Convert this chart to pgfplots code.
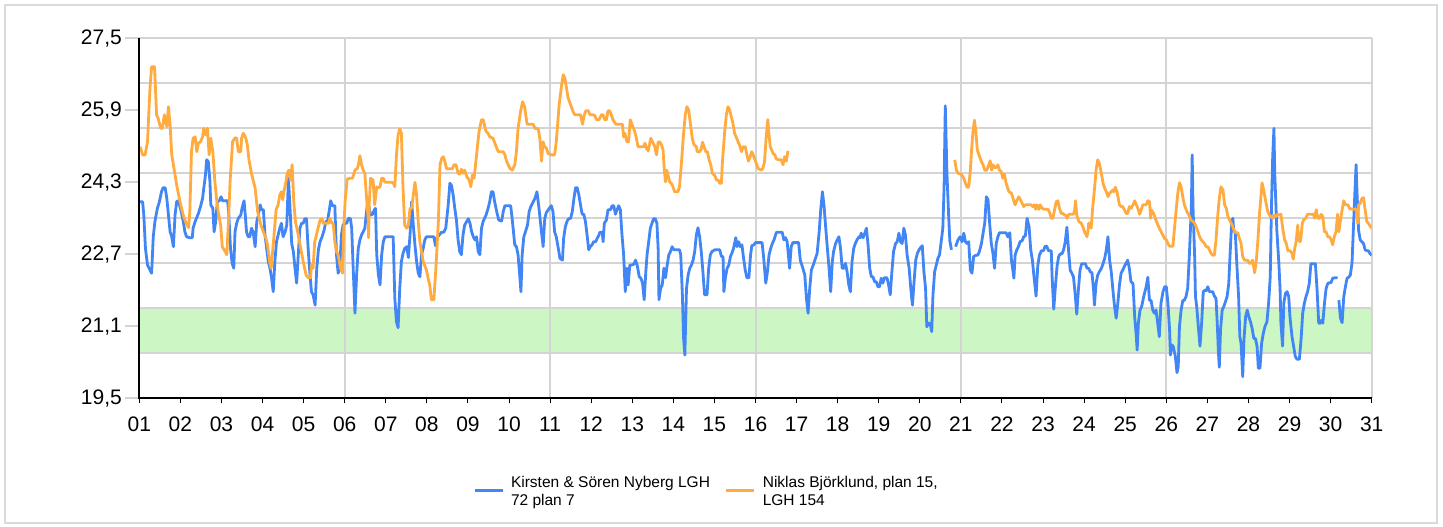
\documentclass[border=0pt]{standalone}
\usepackage{fontspec}
\setmainfont{Liberation Sans}
\usepackage{pgfplots}
\pgfplotsset{compat=1.18}
\definecolor{sblue}{RGB}{66,133,244}
\definecolor{sorange}{RGB}{255,171,64}
\definecolor{bandc}{RGB}{204,246,196}
\definecolor{gridc}{RGB}{212,212,212}
\definecolor{framec}{RGB}{218,218,218}
\begin{document}
\begin{tikzpicture}
\begin{axis}[
 set layers,
 at={(0,0)}, anchor=south west,
 scale only axis, width=1232.4bp, height=360bp,
 xmin=1, xmax=31, ymin=19.5, ymax=27.5,
 axis x line*=bottom, axis y line*=left,
 axis line style={black, line width=2.2bp},
 xtick={1,...,31},
 xticklabels={01,02,03,04,05,06,07,08,09,10,11,12,13,14,15,16,17,18,19,20,21,22,23,24,25,26,27,28,29,30,31},
 xticklabel style={yshift=-10bp},
 ytick={20.5,21.5,...,27.5},
 yticklabels={,,,,,,,},
 ymajorgrids=true,
 major grid style={draw=gridc, line width=2bp},
 ytick style={draw=none},
 extra y ticks={19.5,21.1,22.7,24.3,25.9,27.5},
 extra y tick labels={{19,5},{21,1},{22,7},{24,3},{25,9},{27,5}},
 extra y tick style={grid=none, major tick length=14bp},
 minor xtick={6,11,16,21,26,31},
 xminorgrids=true,
 minor grid style={draw=gridc, line width=2bp},
 minor tick length=0pt,
 major tick length=5bp,
 tick align=outside,
 xtick style={black, line width=1bp},
 tick label style={font=\fontsize{21bp}{25bp}\selectfont},
 unbounded coords=jump,
 legend columns=2,
 legend style={at={(axis description cs:0.2708,-0.2103)}, anchor=north west, draw=none, fill=none, inner sep=0pt,
   font=\fontsize{15.5bp}{17.6bp}\selectfont, cells={align=left, inner sep=0pt},
   /tikz/every even column/.append style={column sep=13bp},
   /tikz/every odd column/.append style={column sep=5bp}},
 legend image code/.code={\draw[#1, line width=2.8bp] (0bp,0.5bp) -- (28bp,0.5bp);},
]
\addplot[draw=none, fill=bandc, forget plot, on layer=axis background] coordinates {(1,20.5) (31,20.5) (31,21.5) (1,21.5)};
\coordinate (t1) at (axis cs:1,19.5);
\coordinate (t2) at (axis cs:1,21.1);
\coordinate (t3) at (axis cs:1,22.7);
\coordinate (t4) at (axis cs:1,24.3);
\coordinate (t5) at (axis cs:1,25.9);
\coordinate (t6) at (axis cs:1,27.5);

\addplot[sblue, line width=2.8bp, line join=round] coordinates {
(1.02,23.87)(1.08,23.87)(1.11,23.57)(1.15,22.83)(1.20,22.46)(1.24,22.39)(1.30,22.28)(1.34,23.09)(1.38,23.43)(1.44,23.72)(1.49,23.87)(1.54,24.09)(1.58,24.18)(1.63,24.18)(1.67,23.94)(1.71,23.57)(1.75,23.20)(1.79,23.09)(1.83,22.87)(1.87,23.57)(1.91,23.87)(1.95,23.89)(2.01,23.69)(2.07,23.43)(2.11,23.20)(2.15,23.09)(2.22,23.07)(2.29,23.07)(2.31,23.28)(2.36,23.43)(2.44,23.61)(2.49,23.76)(2.54,23.94)(2.57,24.17)(2.61,24.46)(2.64,24.80)(2.68,24.76)(2.72,24.31)(2.74,23.80)(2.79,23.72)(2.82,23.20)(2.86,23.43)(2.90,23.87)(2.95,23.89)(2.99,23.98)(3.03,23.89)(3.09,23.89)(3.15,23.89)(3.18,23.57)(3.22,22.83)(3.26,22.50)(3.30,22.39)(3.33,23.20)(3.37,23.39)(3.41,23.50)(3.47,23.57)(3.50,23.72)(3.55,23.89)(3.58,23.57)(3.61,23.20)(3.65,23.09)(3.69,23.09)(3.73,23.28)(3.77,23.20)(3.82,22.87)(3.86,23.43)(3.90,23.57)(3.94,23.80)(3.98,23.69)(4.02,23.69)(4.06,23.13)(4.10,22.83)(4.14,22.54)(4.18,22.39)(4.22,22.17)(4.26,21.87)(4.30,22.54)(4.34,22.98)(4.38,23.13)(4.42,23.28)(4.46,23.39)(4.50,23.09)(4.55,23.20)(4.59,23.35)(4.63,24.39)(4.67,23.72)(4.71,22.94)(4.75,22.76)(4.79,22.39)(4.83,22.06)(4.87,22.69)(4.91,23.28)(4.95,23.39)(4.99,23.39)(5.03,23.49)(5.07,23.49)(5.11,22.83)(5.15,22.31)(5.19,21.87)(5.23,21.80)(5.28,21.57)(5.32,22.39)(5.36,22.80)(5.40,22.98)(5.45,23.09)(5.50,23.24)(5.54,23.43)(5.58,23.43)(5.62,23.65)(5.66,23.89)(5.70,23.78)(5.76,23.78)(5.80,22.69)(5.84,22.28)(5.88,22.39)(5.92,23.13)(5.96,23.35)(6.01,23.39)(6.05,23.39)(6.09,23.50)(6.14,23.49)(6.17,23.28)(6.21,22.31)(6.25,21.39)(6.29,22.24)(6.33,22.83)(6.37,23.02)(6.41,23.13)(6.45,23.20)(6.49,23.28)(6.55,23.80)(6.59,23.76)(6.63,23.57)(6.68,23.59)(6.72,23.69)(6.75,23.72)(6.78,22.69)(6.82,22.24)(6.86,22.02)(6.90,22.69)(6.94,22.98)(6.98,23.09)(7.06,23.09)(7.14,23.09)(7.18,23.09)(7.22,21.72)(7.26,21.20)(7.30,21.07)(7.34,21.94)(7.38,22.54)(7.42,22.72)(7.46,22.83)(7.51,22.87)(7.55,22.63)(7.59,23.13)(7.63,23.87)(7.67,23.35)(7.71,22.91)(7.75,22.54)(7.79,22.28)(7.83,22.20)(7.87,22.69)(7.91,22.83)(7.95,23.02)(7.99,23.09)(8.11,23.09)(8.17,23.09)(8.21,22.89)(8.25,23.07)(8.30,23.13)(8.36,23.19)(8.41,23.19)(8.46,23.28)(8.52,23.80)(8.56,24.28)(8.60,24.23)(8.64,24.02)(8.68,23.72)(8.72,23.46)(8.76,23.02)(8.80,22.76)(8.84,22.69)(8.88,23.13)(8.92,23.35)(8.97,23.43)(9.01,23.49)(9.05,23.39)(9.09,23.20)(9.13,23.09)(9.17,23.02)(9.21,23.09)(9.25,22.76)(9.29,22.69)(9.33,23.28)(9.37,23.43)(9.44,23.57)(9.49,23.72)(9.53,23.87)(9.57,24.09)(9.61,24.09)(9.65,23.87)(9.70,23.65)(9.75,23.46)(9.82,23.44)(9.86,23.65)(9.90,23.78)(9.98,23.78)(10.04,23.78)(10.08,23.46)(10.14,22.91)(10.18,22.87)(10.22,22.69)(10.26,22.24)(10.29,21.87)(10.32,22.69)(10.36,23.09)(10.40,23.20)(10.45,23.35)(10.49,23.65)(10.53,23.76)(10.59,23.87)(10.63,23.94)(10.68,24.09)(10.73,23.72)(10.79,23.20)(10.83,22.87)(10.87,23.50)(10.91,23.63)(10.98,23.72)(11.03,23.78)(11.07,23.65)(11.11,23.20)(11.15,23.09)(11.20,22.83)(11.24,22.61)
(11.30,22.57)(11.33,23.06)(11.37,23.31)(11.41,23.43)(11.45,23.49)(11.50,23.50)(11.54,23.65)(11.58,23.94)(11.62,24.18)(11.66,24.18)(11.70,24.02)(11.74,23.80)(11.78,23.59)(11.82,23.59)(11.86,23.43)(11.90,23.13)(11.94,22.80)(11.98,22.87)(12.02,22.91)(12.06,22.98)(12.11,22.98)(12.15,23.06)(12.19,23.13)(12.21,23.19)(12.27,23.19)(12.29,22.98)(12.32,23.39)(12.37,23.46)(12.41,23.69)(12.47,23.69)(12.51,23.78)(12.55,23.78)(12.59,23.59)(12.63,23.69)(12.67,23.78)(12.71,23.69)(12.75,23.13)(12.79,22.69)(12.83,21.87)(12.87,22.39)(12.90,22.02)(12.94,22.46)(12.98,22.46)(13.04,22.48)(13.08,22.57)(13.12,22.46)(13.17,22.20)(13.21,22.17)(13.25,22.06)(13.29,21.69)(13.33,22.31)(13.36,22.69)(13.40,22.98)(13.44,23.28)(13.48,23.39)(13.52,23.49)(13.56,23.49)(13.60,23.39)(13.63,22.83)(13.65,21.69)(13.69,21.94)(13.73,22.02)(13.77,22.39)(13.81,22.18)(13.85,22.46)(13.89,22.69)(13.93,22.76)(13.97,22.87)(14.01,22.80)(14.07,22.80)(14.15,22.80)(14.18,22.69)(14.22,21.80)(14.25,20.83)(14.28,20.46)(14.32,21.94)(14.36,22.24)(14.40,22.39)(14.44,22.46)(14.48,22.57)(14.52,22.76)(14.56,23.13)(14.60,23.29)(14.64,23.09)(14.68,22.76)(14.72,22.31)(14.76,21.80)(14.82,21.80)(14.86,22.39)(14.90,22.69)(14.94,22.76)(15.01,22.80)(15.09,22.80)(15.13,22.80)(15.17,22.65)(15.21,22.65)(15.23,21.87)(15.27,22.20)(15.31,22.39)(15.35,22.46)(15.39,22.65)(15.44,22.76)(15.47,22.85)(15.52,23.07)(15.55,22.87)(15.59,22.98)(15.63,22.87)(15.67,22.91)(15.71,22.61)(15.75,22.35)(15.79,22.18)(15.84,22.18)(15.88,22.69)(15.91,22.89)(15.96,22.91)(16.00,22.96)(16.06,22.96)(16.12,22.96)(16.16,22.96)(16.20,22.61)(16.25,22.06)(16.29,22.31)(16.33,22.69)(16.37,22.83)(16.41,22.94)(16.45,23.02)(16.51,23.19)(16.59,23.19)(16.65,23.19)(16.69,23.02)(16.73,23.07)(16.77,22.98)(16.80,22.69)(16.83,22.39)(16.87,22.87)(16.91,22.96)(16.99,22.96)(17.05,22.96)(17.09,22.57)(17.14,22.43)(17.20,22.24)(17.24,21.72)(17.28,21.39)(17.32,21.94)(17.36,22.35)(17.42,22.50)(17.46,22.61)(17.50,22.72)(17.55,23.20)(17.59,23.72)(17.63,24.09)(17.67,23.76)(17.71,23.28)(17.75,22.83)(17.79,22.39)(17.83,21.87)(17.87,22.54)(17.90,22.76)(17.95,22.94)(17.99,23.02)(18.03,23.09)(18.07,22.83)(18.11,22.39)(18.15,22.39)(18.19,22.50)(18.23,22.31)(18.27,22.02)(18.31,21.87)(18.35,22.54)(18.39,22.83)(18.43,22.94)(18.47,23.02)(18.52,23.09)(18.55,23.07)(18.57,23.17)(18.62,23.07)(18.66,23.17)(18.70,23.28)(18.74,22.91)(18.78,22.39)(18.82,22.20)(18.86,22.20)(18.90,22.09)(18.94,22.09)(18.98,21.98)(19.02,21.98)(19.06,22.17)(19.10,22.06)(19.14,22.18)(19.20,22.18)(19.24,22.02)(19.28,21.80)(19.32,22.31)(19.36,22.76)(19.41,22.94)(19.45,22.98)(19.49,23.17)(19.53,22.98)(19.57,22.94)(19.61,23.28)(19.65,23.13)(19.69,22.69)(19.74,22.39)(19.78,21.94)(19.82,21.57)(19.86,22.09)(19.90,22.57)(19.94,22.72)(19.98,22.80)(20.02,22.85)(20.06,22.89)(20.10,22.31)(20.14,21.94)(20.17,21.09)(20.22,21.17)(20.25,21.17)(20.29,20.98)(20.32,21.80)(20.36,22.31)(20.40,22.46)(20.44,22.61)(20.48,22.69)(20.52,22.98)(20.56,23.28)(20.59,24.17)(20.62,26.00)(20.66,24.50)(20.70,23.60)(20.73,23.00)(20.77,22.80)(20.81,nan)
(20.87,22.87)(20.93,23.02)(20.98,23.09)(21.03,22.98)(21.07,23.17)(21.11,22.98)(21.15,22.94)(21.19,22.98)(21.23,22.35)(21.27,22.28)(21.31,22.65)(21.37,22.68)(21.41,22.68)(21.45,22.76)(21.50,22.94)(21.54,23.17)(21.58,23.39)(21.62,23.98)(21.66,23.91)(21.70,23.39)(21.74,22.94)(21.78,22.72)(21.82,22.39)(21.86,22.94)(21.90,23.09)(21.94,23.18)(22.02,23.18)(22.10,23.18)(22.14,23.09)(22.19,23.18)(22.23,22.57)(22.27,22.31)(22.29,22.17)(22.32,22.68)(22.36,22.80)(22.40,22.87)(22.44,22.98)(22.49,23.00)(22.53,23.09)(22.57,23.11)(22.61,23.50)(22.66,23.31)(22.70,22.80)(22.74,22.57)(22.78,22.20)(22.83,21.77)(22.87,22.43)(22.91,22.68)(22.96,22.78)(23.01,22.78)(23.05,22.88)(23.09,22.88)(23.13,22.78)(23.20,22.78)(23.22,22.20)(23.26,21.48)(23.30,21.98)(23.34,22.43)(23.38,22.65)(23.42,22.71)(23.46,22.71)(23.50,22.80)(23.54,22.98)(23.58,23.30)(23.62,22.80)(23.66,22.35)(23.70,22.28)(23.74,22.20)(23.78,21.83)(23.82,21.37)(23.86,21.91)(23.90,22.35)(23.94,22.49)(23.99,22.49)(24.03,22.49)(24.07,22.39)(24.11,22.39)(24.15,22.31)(24.19,22.29)(24.23,21.91)(24.25,21.57)(24.29,22.05)(24.33,22.24)(24.37,22.31)(24.42,22.39)(24.46,22.49)(24.50,22.61)(24.54,22.80)(24.58,23.09)(24.62,22.57)(24.66,22.31)(24.70,21.91)(24.74,21.54)(24.78,21.28)(24.82,21.61)(24.86,22.02)(24.90,22.28)(24.94,22.35)(24.98,22.43)(25.02,22.50)(25.06,22.57)(25.10,22.39)(25.14,22.09)(25.19,22.05)(25.23,21.31)(25.27,20.87)(25.29,20.57)(25.32,21.17)(25.36,21.46)(25.40,21.54)(25.45,21.76)(25.49,21.91)(25.51,21.98)(25.55,22.19)(25.59,21.68)(25.63,21.67)(25.67,21.46)(25.71,21.39)(25.75,21.46)(25.79,21.17)(25.83,20.87)(25.87,21.61)(25.92,21.87)(25.96,21.98)(26.00,21.98)(26.04,21.61)(26.08,21.02)(26.10,20.46)(26.13,20.69)(26.17,20.65)(26.22,20.43)(26.26,20.07)(26.29,20.20)(26.32,21.09)(26.36,21.46)(26.40,21.67)(26.44,21.68)(26.48,21.76)(26.52,21.94)(26.56,22.65)(26.61,23.76)(26.63,24.91)(26.65,23.76)(26.69,22.65)(26.71,21.76)(26.74,21.54)(26.78,21.09)(26.82,20.66)(26.86,21.17)(26.90,21.87)(26.95,21.91)(26.97,21.89)(27.01,21.98)(27.05,21.87)(27.09,21.87)(27.13,21.87)(27.17,21.77)(27.21,21.72)(27.24,21.17)(27.27,20.50)(27.29,20.19)(27.32,21.02)(27.36,21.46)(27.40,21.54)(27.44,21.65)(27.48,21.76)(27.52,22.05)(27.55,22.65)(27.59,23.39)(27.62,23.50)(27.64,23.24)(27.68,23.17)(27.72,22.43)(27.76,21.76)(27.79,20.87)(27.82,20.72)(27.86,19.98)(27.89,20.80)(27.93,21.31)(27.97,21.46)(28.01,21.31)(28.05,21.20)(28.09,21.05)(28.13,20.83)(28.17,20.83)(28.21,20.65)(28.24,20.17)(28.28,20.17)(28.32,20.72)(28.36,20.94)(28.40,21.09)(28.45,21.20)(28.49,21.61)(28.53,22.20)(28.56,23.76)(28.59,24.87)(28.62,25.50)(28.64,24.50)(28.69,23.24)(28.74,22.50)(28.77,21.91)(28.79,21.17)(28.83,20.66)(28.86,21.61)(28.90,21.83)(28.94,21.87)(28.98,21.76)(29.01,21.31)(29.06,20.87)(29.10,20.65)(29.14,20.43)(29.18,20.37)(29.24,20.37)(29.28,20.80)(29.32,21.39)(29.36,21.61)(29.40,21.76)(29.44,21.87)(29.48,22.05)(29.52,22.49)(29.58,22.49)(29.63,22.49)(29.67,21.91)(29.71,21.17)(29.75,21.17)(29.78,21.24)(29.81,21.17)(29.85,21.61)(29.89,21.94)(29.93,22.05)(29.97,22.07)(30.01,22.07)(30.05,22.17)(30.13,22.18)(30.17,22.18)(30.185,nan)
(30.20,21.68)(30.24,21.28)(30.28,21.18)(30.32,21.76)(30.36,21.98)(30.40,22.17)(30.44,22.19)(30.48,22.24)(30.52,22.50)(30.56,23.39)(30.60,24.28)(30.62,24.69)(30.64,24.13)(30.68,23.24)(30.72,23.02)(30.76,22.98)(30.80,22.94)(30.84,22.80)(30.88,22.78)(30.92,22.78)(30.96,22.71)(31.00,22.68)
};
\addlegendentry{Kirsten \& Sören Nyberg LGH\\72 plan 7}

\addplot[sorange, line width=2.8bp, line join=round] coordinates {
(1.02,25.09)(1.08,24.91)(1.14,24.91)(1.20,25.20)(1.26,26.39)(1.30,26.87)(1.37,26.87)(1.38,26.68)(1.42,25.80)(1.46,25.72)(1.52,25.50)(1.56,25.50)(1.61,25.80)(1.64,25.65)(1.67,25.54)(1.71,25.98)(1.75,25.57)(1.79,24.91)(1.83,24.69)(1.91,24.24)(1.99,23.87)(2.07,23.57)(2.14,23.39)(2.20,23.29)(2.23,23.65)(2.27,24.98)(2.31,25.28)(2.36,25.31)(2.40,24.98)(2.44,25.17)(2.49,25.20)(2.54,25.31)(2.57,25.50)(2.62,25.35)(2.66,25.50)(2.70,24.91)(2.74,25.28)(2.79,24.98)(2.84,24.31)(2.88,23.94)(2.92,23.65)(2.98,23.35)(3.02,22.87)(3.09,22.76)(3.13,22.69)(3.17,23.43)(3.21,24.31)(3.27,25.20)(3.33,25.29)(3.37,25.28)(3.41,24.98)(3.47,24.98)(3.49,25.28)(3.53,25.39)(3.59,25.29)(3.63,25.13)(3.67,24.80)(3.73,24.50)(3.82,24.17)(3.88,23.65)(3.96,23.35)(4.02,23.20)(4.08,23.06)(4.12,22.91)(4.18,22.50)(4.21,22.39)(4.26,22.91)(4.33,23.69)(4.38,23.80)(4.42,24.02)(4.46,24.09)(4.49,23.91)(4.52,24.09)(4.57,24.31)(4.60,24.50)(4.64,24.57)(4.68,24.35)(4.72,24.69)(4.76,23.87)(4.80,23.43)(4.87,23.13)(4.93,22.83)(4.99,22.54)(5.06,22.24)(5.11,22.18)(5.17,22.18)(5.19,22.46)(5.23,22.39)(5.27,22.98)(5.33,23.20)(5.40,23.46)(5.45,23.49)(5.48,23.39)(5.56,23.39)(5.61,23.39)(5.64,23.50)(5.69,23.39)(5.72,23.39)(5.76,22.98)(5.80,22.76)(5.84,22.69)(5.90,22.39)(5.95,22.28)(5.97,23.13)(6.01,23.87)(6.06,24.37)(6.13,24.39)(6.19,24.39)(6.25,24.57)(6.31,24.61)(6.34,24.72)(6.37,24.89)(6.41,24.69)(6.45,24.57)(6.49,24.50)(6.53,23.98)(6.57,23.50)(6.58,23.07)(6.60,23.87)(6.63,24.39)(6.69,24.35)(6.73,23.80)(6.78,24.20)(6.82,24.18)(6.86,24.20)(6.90,24.39)(6.94,24.39)(6.98,24.30)(7.06,24.30)(7.14,24.30)(7.18,24.29)(7.22,24.20)(7.26,24.91)(7.30,25.35)(7.34,25.49)(7.38,25.39)(7.42,24.17)(7.46,23.35)(7.51,23.28)(7.55,23.35)(7.59,23.72)(7.63,23.72)(7.67,24.02)(7.71,24.30)(7.75,24.02)(7.79,23.43)(7.83,22.98)(7.91,22.54)(7.99,22.35)(8.03,22.17)(8.07,22.02)(8.11,21.69)(8.17,21.69)(8.22,22.39)(8.28,23.43)(8.32,24.69)(8.36,24.83)(8.40,24.87)(8.44,24.76)(8.48,24.60)(8.56,24.60)(8.62,24.60)(8.66,24.69)(8.71,24.69)(8.76,24.50)(8.80,24.48)(8.84,24.59)(8.88,24.50)(8.92,24.57)(8.97,24.43)(9.03,24.35)(9.07,24.20)(9.11,24.46)(9.15,24.39)(9.21,24.91)(9.27,25.43)(9.33,25.69)(9.37,25.69)(9.44,25.43)(9.49,25.39)(9.53,25.31)(9.61,25.28)(9.70,25.06)(9.74,24.98)(9.82,24.98)(9.86,24.98)(9.90,24.91)(9.94,24.77)(10.02,24.61)(10.08,24.57)(10.14,24.69)(10.18,24.98)(10.22,25.50)(10.28,25.87)(10.33,26.09)(10.38,25.98)(10.44,25.59)(10.51,25.59)(10.59,25.59)(10.63,25.50)(10.71,25.49)(10.75,25.28)(10.79,24.77)(10.83,25.20)(10.87,25.09)(10.91,25.06)(10.95,24.94)(11.03,24.91)(11.11,24.91)(11.15,25.20)
(11.22,26.02)(11.28,26.46)(11.32,26.69)(11.36,26.61)(11.40,26.39)(11.44,26.17)(11.50,26.02)(11.56,25.87)(11.60,25.80)(11.68,25.80)(11.74,25.80)(11.79,25.59)(11.82,25.76)(11.87,25.89)(11.93,25.89)(11.97,25.80)(12.05,25.80)(12.09,25.78)(12.13,25.69)(12.19,25.69)(12.25,25.80)(12.29,25.80)(12.33,25.69)(12.37,25.69)(12.41,25.89)(12.45,25.89)(12.49,25.80)(12.53,25.69)(12.60,25.59)(12.70,25.59)(12.76,25.59)(12.79,25.31)(12.82,25.39)(12.87,25.20)(12.91,25.20)(12.95,25.69)(13.00,25.57)(13.06,25.43)(13.10,25.28)(13.14,25.09)(13.22,25.09)(13.28,25.09)(13.31,25.17)(13.34,25.06)(13.39,25.00)(13.45,25.28)(13.51,25.17)(13.55,25.09)(13.59,24.91)(13.63,25.19)(13.67,25.20)(13.71,25.13)(13.75,25.02)(13.78,24.57)(13.81,24.31)(13.84,24.57)(13.87,24.46)(13.91,24.31)(13.95,24.28)(13.99,24.20)(14.03,24.09)(14.11,24.09)(14.15,24.20)(14.20,24.76)(14.24,25.28)(14.29,25.80)(14.33,25.98)(14.37,25.91)(14.41,25.65)(14.46,25.28)(14.50,25.14)(14.56,25.09)(14.58,24.98)(14.64,24.98)(14.68,25.04)(14.71,25.19)(14.75,25.09)(14.79,24.98)(14.83,24.98)(14.87,24.80)(14.91,24.69)(14.95,24.50)(15.01,24.45)(15.05,24.35)(15.09,24.35)(15.13,24.28)(15.17,24.28)(15.19,24.69)(15.25,25.43)(15.29,25.80)(15.33,25.98)(15.37,25.91)(15.41,25.76)(15.45,25.61)(15.49,25.39)(15.55,25.26)(15.61,25.13)(15.66,24.98)(15.70,25.09)(15.75,25.09)(15.79,24.91)(15.83,24.77)(15.87,24.87)(15.91,24.98)(15.96,24.87)(16.00,24.77)(16.06,24.61)(16.14,24.57)(16.18,24.61)(16.22,24.76)(16.26,25.31)(16.30,25.69)(16.33,25.35)(16.36,25.09)(16.43,24.94)(16.47,24.91)(16.51,24.82)(16.57,24.80)(16.63,24.80)(16.67,24.69)(16.71,24.87)(16.75,24.77)(16.79,25.00)(16.85,nan)
(20.85,24.80)(20.89,24.57)(20.93,24.50)(21.01,24.48)(21.07,24.39)(21.11,24.28)(21.15,24.19)(21.19,24.19)(21.23,24.57)(21.26,25.02)(21.29,25.39)(21.33,25.68)(21.36,25.46)(21.40,25.02)(21.44,24.91)(21.50,24.76)(21.54,24.69)(21.58,24.57)(21.63,24.57)(21.68,24.69)(21.71,24.78)(21.75,24.57)(21.78,24.69)(21.82,24.63)(21.86,24.63)(21.90,24.69)(21.94,24.57)(21.98,24.54)(22.02,24.39)(22.06,24.48)(22.10,24.28)(22.17,24.09)(22.23,24.06)(22.28,23.91)(22.32,23.80)(22.36,23.89)(22.41,23.98)(22.47,23.87)(22.53,23.76)(22.57,23.80)(22.63,23.80)(22.71,23.80)(22.75,23.76)(22.79,23.80)(22.82,23.70)(22.85,23.80)(22.90,23.70)(22.93,23.80)(22.98,23.72)(23.04,23.70)(23.12,23.70)(23.16,23.63)(23.20,23.50)(23.24,23.50)(23.28,23.69)(23.32,23.87)(23.36,23.89)(23.40,23.72)(23.44,23.61)(23.48,23.61)(23.52,23.57)(23.56,23.57)(23.58,23.50)(23.63,23.59)(23.69,23.59)(23.74,23.59)(23.77,23.69)(23.79,23.89)(23.82,23.57)(23.87,23.43)(23.93,23.39)(23.97,23.31)(24.01,23.20)(24.07,23.09)(24.09,23.20)(24.11,23.39)(24.15,23.39)(24.17,23.28)(24.21,23.76)(24.25,24.13)(24.29,24.57)(24.33,24.80)(24.37,24.72)(24.42,24.50)(24.46,24.28)(24.50,24.17)(24.54,24.09)(24.58,23.98)(24.62,24.06)(24.66,24.09)(24.70,24.13)(24.72,24.09)(24.76,24.19)(24.80,24.09)(24.86,23.80)(24.90,23.76)(24.94,23.76)(24.98,23.69)(25.02,23.61)(25.06,23.61)(25.10,23.76)(25.14,23.72)(25.19,23.80)(25.23,23.89)(25.27,23.80)(25.31,23.72)(25.35,23.59)(25.39,23.69)(25.43,23.80)(25.47,23.80)(25.51,23.80)(25.55,23.89)(25.59,23.87)(25.62,23.50)(25.63,23.69)(25.69,23.61)(25.75,23.45)(25.83,23.28)(25.89,23.17)(25.96,23.05)(26.00,23.02)(26.04,22.94)(26.08,22.88)(26.16,22.88)(26.20,23.28)(26.24,23.69)(26.28,24.06)(26.32,24.29)(26.36,24.20)(26.40,23.98)(26.44,23.80)(26.50,23.65)(26.55,23.57)(26.60,23.46)(26.65,23.43)(26.69,23.39)(26.73,23.30)(26.77,23.20)(26.81,23.09)(26.85,23.02)(26.89,22.98)(26.93,22.94)(26.97,22.87)(27.01,22.87)(27.05,22.80)(27.09,22.72)(27.13,22.68)(27.17,22.68)(27.21,23.02)(27.25,23.54)(27.29,23.94)(27.33,24.20)(27.38,24.13)(27.42,23.80)(27.46,23.72)(27.50,23.54)(27.54,23.46)(27.58,23.39)(27.62,23.31)(27.66,23.20)(27.70,23.18)(27.74,23.18)(27.78,23.05)(27.82,22.94)(27.86,22.65)(27.90,22.57)(27.94,22.57)(27.98,22.57)(28.02,22.50)(28.06,22.50)(28.10,22.57)(28.15,22.29)(28.19,22.54)(28.23,23.02)(28.27,23.61)(28.31,24.06)(28.33,24.29)(28.37,24.13)(28.43,23.83)(28.47,23.65)(28.51,23.57)(28.55,23.54)(28.59,23.50)(28.63,23.57)(28.67,23.54)(28.71,23.59)(28.75,23.57)(28.79,23.59)(28.84,23.24)(28.88,23.02)(28.92,22.94)(28.96,22.78)(29.01,22.78)(29.06,22.72)(29.09,22.59)(29.12,22.80)(29.16,22.98)(29.20,23.35)(29.22,23.02)(29.26,22.98)(29.28,23.09)(29.31,23.39)(29.34,23.46)(29.39,23.50)(29.44,23.59)(29.52,23.59)(29.58,23.59)(29.61,23.50)(29.65,23.69)(29.69,23.50)(29.73,23.50)(29.77,23.59)(29.81,23.54)(29.85,23.20)(29.89,23.20)(29.93,23.09)(29.97,23.09)(30.01,23.03)(30.05,22.91)(30.09,23.09)(30.13,23.20)(30.17,23.59)(30.20,23.20)(30.23,23.39)(30.28,23.69)(30.32,23.89)(30.36,23.80)(30.42,23.80)(30.46,23.72)(30.54,23.70)(30.62,23.70)(30.66,23.39)(30.68,23.80)(30.72,23.83)(30.76,23.94)(30.80,23.96)(30.84,23.69)(30.88,23.43)(30.92,23.39)(30.96,23.33)(31.00,23.28)
};
\addlegendentry{Niklas Björklund, plan 15,\\LGH 154}
\end{axis}
\foreach \t in {t1,t2,t3,t4,t5,t6} {\draw[gridc, line width=2bp] (\t) -- ++(-14bp,0);}
\draw[black, line width=2.2bp] (0,-1.1bp) -- (0,360bp);
\draw[framec, line width=2bp] (-134.3bp,-124.7bp) rectangle (1297.7bp,393.3bp);
\pgfresetboundingbox
\useasboundingbox (-139.3bp,-128.7bp) rectangle (1303.7bp,398.3bp);
\end{tikzpicture}
\end{document}
